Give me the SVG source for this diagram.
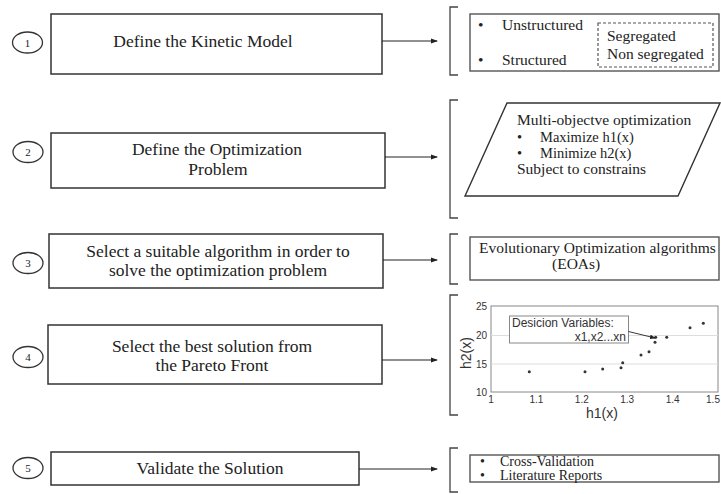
<svg xmlns="http://www.w3.org/2000/svg" width="721" height="494" viewBox="0 0 721 494">
<defs>
<marker id="ah" markerWidth="7" markerHeight="6" refX="6" refY="3" orient="auto" markerUnits="userSpaceOnUse"><path d="M0,0.6 L7,3 L0,5.4 Z" fill="#222"/></marker>
<marker id="ah2" markerWidth="6" markerHeight="5" refX="5" refY="2.5" orient="auto" markerUnits="userSpaceOnUse"><path d="M0,0.3 L6,2.5 L0,4.7 Z" fill="#222"/></marker>
</defs>
<style>
.box{fill:#fff;stroke:#333;stroke-width:1.5}
.num{fill:#fff;stroke:#333;stroke-width:1.3}
.t{font-family:"Liberation Serif","Times New Roman",serif;font-size:17.5px;fill:#222;text-anchor:middle}
.n{font-family:"Liberation Serif","Times New Roman",serif;font-size:11px;fill:#222;text-anchor:middle}
.r{font-family:"Liberation Serif","Times New Roman",serif;font-size:15.5px;fill:#222}
.p{font-family:"Liberation Serif","Times New Roman",serif;font-size:14.5px;fill:#222}
.s{font-family:"Liberation Serif","Times New Roman",serif;font-size:14px;fill:#222}
.br{fill:none;stroke:#444;stroke-width:1.3}
.ib{fill:#fff;stroke:#555;stroke-width:1.4}
.conn{stroke:#222;stroke-width:1.2;fill:none;marker-end:url(#ah)}
.ax{font-family:"Liberation Sans",Arial,sans-serif;font-size:10px;fill:#333}
.an{font-family:"Liberation Sans",Arial,sans-serif;font-size:12px;fill:#333}
.al{font-family:"Liberation Sans",Arial,sans-serif;font-size:14px;fill:#333;text-anchor:middle}
.pt{fill:#333}
</style>

<g id="step1">
<ellipse class="num" cx="27.5" cy="42.5" rx="15" ry="10.5"/>
<text class="n" x="27.5" y="46.5">1</text>
<rect class="box" x="51" y="14" width="331" height="60"/>
<text class="t" x="203" y="47">Define the Kinetic Model</text>
</g>

<g id="step2">
<ellipse class="num" cx="28" cy="152" rx="15" ry="10.5"/>
<text class="n" x="28" y="156">2</text>
<rect class="box" x="51" y="133" width="334" height="55"/>
<text class="t" x="217" y="155">Define the Optimization</text>
<text class="t" x="218" y="175">Problem</text>
</g>

<g id="step3">
<ellipse class="num" cx="28" cy="263" rx="15" ry="10.5"/>
<text class="n" x="28" y="267">3</text>
<rect class="box" x="49" y="234" width="334" height="54"/>
<text class="t" x="218" y="257">Select a suitable algorithm in order to</text>
<text class="t" x="218" y="276">solve the optimization problem</text>
</g>

<g id="step4">
<ellipse class="num" cx="28" cy="357" rx="15" ry="10.5"/>
<text class="n" x="28" y="361">4</text>
<rect class="box" x="48" y="325" width="334" height="59"/>
<text class="t" x="212" y="352">Select the best solution from</text>
<text class="t" x="212" y="371">the Pareto Front</text>
</g>

<g id="step5">
<ellipse class="num" cx="28" cy="468" rx="15" ry="10.5"/>
<text class="n" x="28" y="472">5</text>
<rect class="box" x="51" y="452" width="308" height="33"/>
<text class="t" x="210" y="474">Validate the Solution</text>
</g>

<g id="connectors">
<path class="conn" d="M382 41 H437"/>
<path class="conn" d="M385 157 H437"/>
<path class="conn" d="M383 260 H437"/>
<path class="conn" d="M382 360 H437"/>
<path class="conn" d="M359 469 H437"/>
</g>

<g id="model-types">
<path class="br" d="M458 7 H450 V75 H458"/>
<rect class="ib" x="470" y="14" width="249" height="57"/>
<text class="r" x="478" y="30">•</text>
<text class="r" x="502" y="30">Unstructured</text>
<text class="r" x="478" y="65">•</text>
<text class="r" x="502" y="65">Structured</text>
<rect x="598" y="23" width="115" height="44" fill="none" stroke="#555" stroke-width="1.2" stroke-dasharray="3,2"/>
<text class="r" x="607" y="41">Segregated</text>
<text class="r" x="607" y="59">Non segregated</text>
</g>

<g id="optimization-problem">
<path class="br" d="M458 100 H450 V218 H458"/>
<polygon points="507,103 720,103 678,196 465,196" fill="#fff" stroke="#333" stroke-width="1.4"/>
<text class="r" x="517" y="125">Multi-objectve optimization</text>
<text class="p" x="517" y="142">•</text>
<text class="p" x="540" y="142">Maximize h1(x)</text>
<text class="p" x="517" y="158">•</text>
<text class="p" x="540" y="158">Minimize h2(x)</text>
<text class="r" x="517" y="174">Subject to constrains</text>
</g>

<g id="algorithms">
<path class="br" d="M458 234 H450 V284 H458"/>
<rect class="ib" x="470" y="237" width="249" height="43"/>
<text class="r" x="479" y="253">Evolutionary Optimization algorithms</text>
<text class="r" x="552" y="269">(EOAs)</text>
</g>

<g id="pareto-chart">
<path class="br" d="M458 295 H450 V415 H458"/>
<rect x="491" y="306" width="227" height="86" fill="#fff" stroke="#888" stroke-width="1"/>
<line x1="491" y1="335.5" x2="718" y2="335.5" stroke="#ddd" stroke-width="1"/>
<line x1="491" y1="364" x2="718" y2="364" stroke="#ddd" stroke-width="1"/>
<text class="ax" x="487" y="310" text-anchor="end">25</text>
<text class="ax" x="487" y="339" text-anchor="end">20</text>
<text class="ax" x="487" y="368" text-anchor="end">15</text>
<text class="ax" x="487" y="396" text-anchor="end">10</text>
<text class="ax" x="491" y="403" text-anchor="middle">1</text>
<text class="ax" x="536.4" y="403" text-anchor="middle">1.1</text>
<text class="ax" x="581.8" y="403" text-anchor="middle">1.2</text>
<text class="ax" x="627.2" y="403" text-anchor="middle">1.3</text>
<text class="ax" x="672.6" y="403" text-anchor="middle">1.4</text>
<text class="ax" x="713" y="403" text-anchor="middle">1.5</text>
<text class="al" x="602" y="418">h1(x)</text>
<text class="al" transform="translate(471,353) rotate(-90)">h2(x)</text>
<g class="pt">
<circle cx="529.3" cy="371.7" r="1.5"/>
<circle cx="585" cy="371.7" r="1.5"/>
<circle cx="602.7" cy="369" r="1.5"/>
<circle cx="621" cy="367.7" r="1.5"/>
<circle cx="622.7" cy="362.7" r="1.5"/>
<circle cx="641" cy="355" r="1.5"/>
<circle cx="649" cy="351.7" r="1.5"/>
<circle cx="655" cy="342.3" r="1.5"/>
<circle cx="655.7" cy="337.3" r="1.5"/>
<circle cx="666.7" cy="337.3" r="1.5"/>
<circle cx="690" cy="327.7" r="1.5"/>
<circle cx="703.3" cy="323.3" r="1.5"/>
</g>
<rect x="509.5" y="316" width="119" height="27" fill="#fff" stroke="#888" stroke-width="1"/>
<text class="an" x="512" y="327">Desicion Variables:</text>
<text class="an" x="626" y="340.5" text-anchor="end">x1,x2...xn</text>
<line x1="628.5" y1="331.5" x2="655" y2="338" stroke="#222" stroke-width="0.9" marker-end="url(#ah2)"/>
</g>

<g id="validation">
<path class="br" d="M458 448 H450 V492 H458"/>
<rect class="ib" x="470" y="455" width="249" height="27"/>
<text class="s" x="480" y="466">•</text>
<text class="s" x="500" y="466">Cross-Validation</text>
<text class="s" x="480" y="480">•</text>
<text class="s" x="500" y="480">Literature Reports</text>
</g>
</svg>
